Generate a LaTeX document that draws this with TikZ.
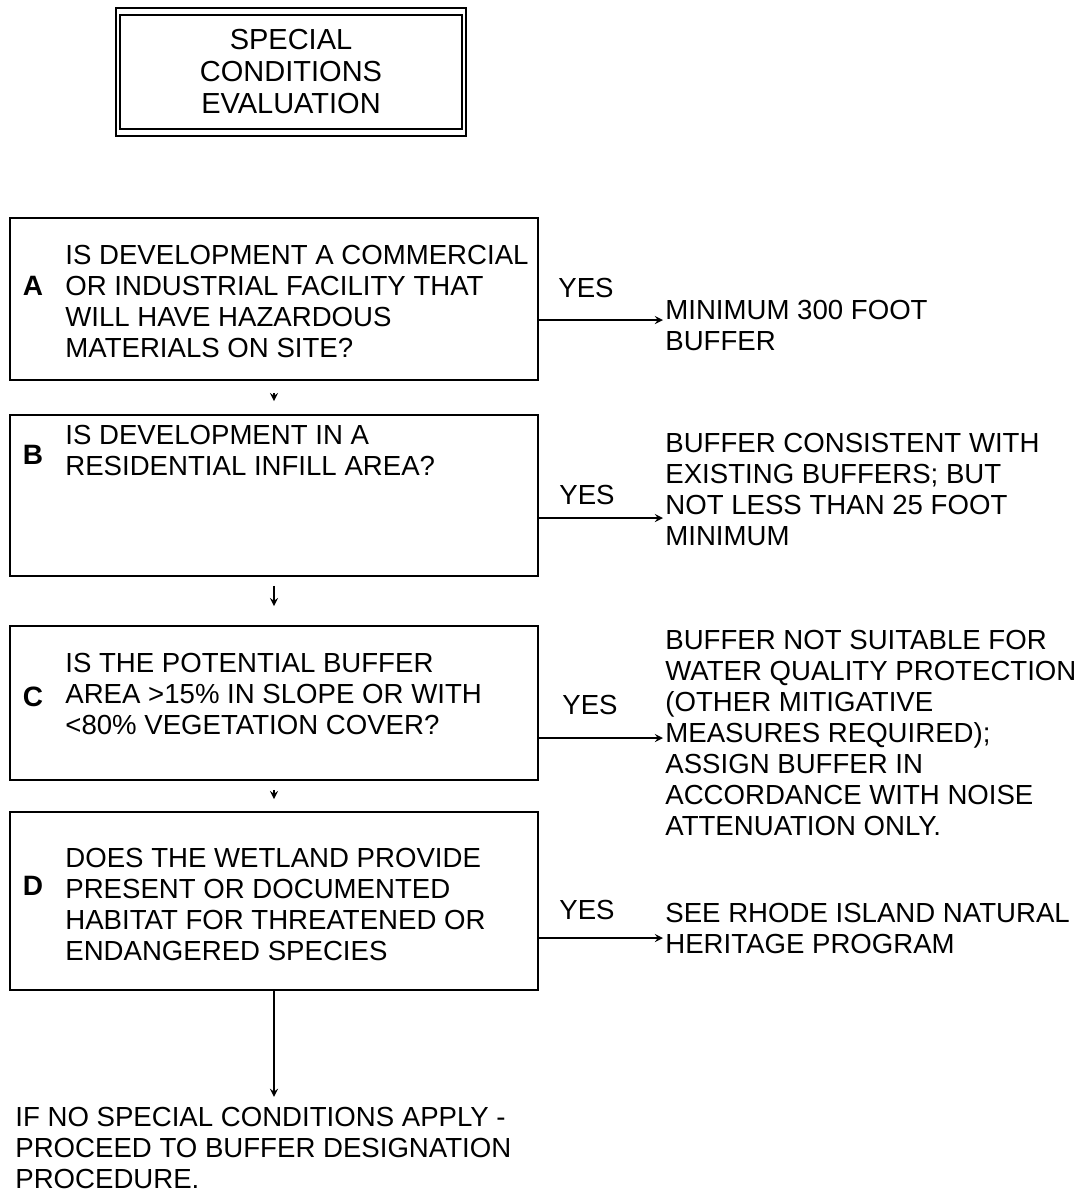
\documentclass[tikz,border=0pt]{standalone}
\usepackage{fontspec}
\setmainfont{Liberation Sans}
\usetikzlibrary{shapes,arrows,positioning,calc}

\begin{document}
\begin{tikzpicture}[x=0.5pt, y=-0.5pt,
            question/.style={rectangle, draw, line width=0.9pt, minimum width=264pt, inner sep=0pt},
            qtext/.style={anchor=west, align=left, inner sep=0pt, font=\fontsize{13.8}{15.5}\selectfont},
            letter/.style={inner sep=0pt, font=\fontsize{14}{15.5}\selectfont\bfseries},
            answer/.style={anchor=west, align=left, inner sep=0pt, font=\fontsize{13.8}{15.5}\selectfont},
            yeslbl/.style={inner sep=0pt, font=\fontsize{13.8}{15.5}\selectfont},
            yesarrow/.style={->, >=stealth, line width=0.8pt},
            tickarrow/.style={->, >=stealth, line width=0.8pt}
        ]
        \useasboundingbox (0,0) rectangle (1087,1196);
        \fill[white] (0,0) rectangle (1087,1196);

        % Title
        \node[draw, line width=0.9pt, minimum width=175pt, minimum height=64pt, align=center, font=\fontsize{14.5}{16}\selectfont] (title) at (291,72) {SPECIAL\\CONDITIONS\\EVALUATION};
        \draw[line width=0.7pt] ([shift={(5,8)}]title.north west) rectangle ([shift={(-5,-8)}]title.south east);

        % Question A
        \node[question, minimum height=81pt] (boxA) at (274,299) {};
        \node[letter] (letA) at (33,286) {A};
        \node[qtext] (qA) at (65,301.5) {IS DEVELOPMENT A COMMERCIAL\\OR INDUSTRIAL FACILITY THAT\\WILL HAVE HAZARDOUS\\MATERIALS ON SITE?};
        \node[yeslbl] (yesA) at (586,288) {YES};
        \node[answer] (ansA) at (665,325.5) {MINIMUM 300 FOOT\\BUFFER};
        \coordinate (tipA) at (663,320);

        % Question B
        \node[question, minimum height=80.5pt] (boxB) at (274,495.5) {};
        \node[letter] (letB) at (33,455) {B};
        \node[qtext] (qB) at (65,450.5) {IS DEVELOPMENT IN A\\RESIDENTIAL INFILL AREA?};
        \node[yeslbl] (yesB) at (587,495) {YES};
        \node[answer] (ansB) at (665,489.5) {BUFFER CONSISTENT WITH\\EXISTING BUFFERS; BUT\\NOT LESS THAN 25 FOOT\\MINIMUM};
        \coordinate (tipB) at (663,518);

        % Question C
        \node[question, minimum height=77pt] (boxC) at (274,703) {};
        \node[letter] (letC) at (33,697) {C};
        \node[qtext] (qC) at (65,694) {IS THE POTENTIAL BUFFER\\AREA >15\% IN SLOPE OR WITH\\<80\% VEGETATION COVER?};
        \node[yeslbl] (yesC) at (590,705) {YES};
        \node[answer] (ansC) at (665,733) {BUFFER NOT SUITABLE FOR\\WATER QUALITY PROTECTION\\(OTHER MITIGATIVE\\MEASURES REQUIRED);\\ASSIGN BUFFER IN\\ACCORDANCE WITH NOISE\\ATTENUATION ONLY.};
        \coordinate (tipC) at (663,738);

        % Question D
        \node[question, minimum height=89pt] (boxD) at (274,901) {};
        \node[letter] (letD) at (33,886) {D};
        \node[qtext] (qD) at (65,904.5) {DOES THE WETLAND PROVIDE\\PRESENT OR DOCUMENTED\\HABITAT FOR THREATENED OR\\ENDANGERED SPECIES};
        \node[yeslbl] (yesD) at (587,910) {YES};
        \node[answer] (ansD) at (665,928.5) {SEE RHODE ISLAND NATURAL\\HERITAGE PROGRAM};
        \coordinate (tipD) at (663,938);

        % No special conditions
        \node[answer] (final) at (15,1148) {IF NO SPECIAL CONDITIONS APPLY -\\PROCEED TO BUFFER DESIGNATION\\PROCEDURE.};

        % Arrows
        \draw[yesarrow] (boxA.east |- tipA) -- (tipA);
        \draw[yesarrow] (boxB.east |- tipB) -- (tipB);
        \draw[yesarrow] (boxC.east |- tipC) -- (tipC);
        \draw[yesarrow] (boxD.east |- tipD) -- (tipD);
        \draw[tickarrow, shorten <=6pt, shorten >=6.5pt] (boxA) -- (boxB);
        \draw[tickarrow, shorten <=4.5pt, shorten >=9.5pt] (boxB) -- (boxC);
        \draw[tickarrow, shorten <=4.5pt, shorten >=6pt] (boxC) -- (boxD);
        \draw[tickarrow, shorten >=5pt] (boxD) -- (boxD |- final.north);

        \end{tikzpicture}
\end{document}
